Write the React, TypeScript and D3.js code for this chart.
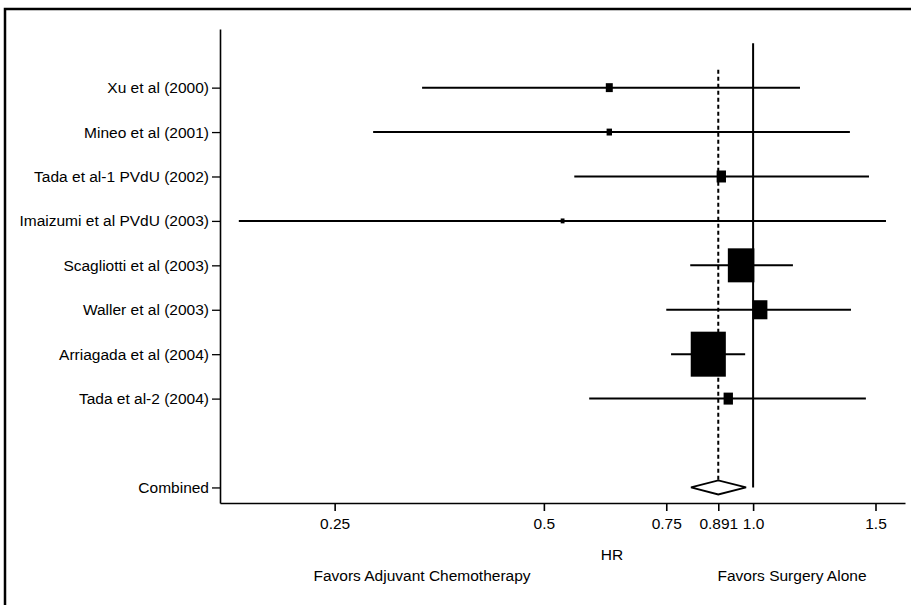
import React, { useEffect, useRef } from 'react';
import * as d3 from 'd3';

// study labels, top to bottom
const studies = [
  'Xu et al (2000)',
  'Mineo et al (2001)',
  'Tada et al-1 PVdU (2002)',
  'Imaizumi et al PVdU (2003)',
  'Scagliotti et al (2003)',
  'Waller et al (2003)',
  'Arriagada et al (2004)',
  'Tada et al-2 (2004)',
];
const hr = [0.621, 0.621, 0.9, 0.532, 0.961, 1.023, 0.862, 0.921];
const lower = [0.334, 0.284, 0.553, 0.182, 0.812, 0.75, 0.762, 0.581];
const upper = [1.168, 1.378, 1.468, 1.553, 1.141, 1.383, 0.974, 1.453];
// relative weights (%)
const weights = [2.0, 1.2, 3.6, 0.6, 29.0, 9.1, 50.8, 3.6];

const combinedLabel = 'Combined';
const combinedHR = 0.891;
const combinedLower = 0.814;
const combinedUpper = 0.977;

const xTicks = [0.25, 0.5, 0.75, 0.891, 1.0, 1.5];
const xTickLabels = ['0.25', '0.5', '0.75', '0.891', '1.0', '1.5'];

const W = 911;
const H = 605;
const FONT = '"Liberation Sans", Arial, Helvetica, sans-serif';

export default function App() {
  const ref = useRef<SVGSVGElement>(null);

  useEffect(() => {
    const svg = d3.select(ref.current);
    svg.selectAll('*').remove();

    const x = d3.scaleLog().domain([0.171, 1.654]).range([220, 905]);
    // row positions: studies 0..7, gap, combined at 9
    const y = d3.scaleLinear().domain([-1.32, 9.35]).range([29, 503]);
    const size = d3.scaleSqrt().domain([0, 50.8]).range([0, 45]);

    svg.append('rect').attr('width', W).attr('height', H).attr('fill', '#fff');

    // outer frame (runs off right and bottom)
    svg.append('path')
      .attr('d', `M5,${H + 5} L5,9 L${W + 5},9`)
      .attr('fill', 'none')
      .attr('stroke', '#000')
      .attr('stroke-width', 2.5);

    const rows = studies.map((s, i) => ({ label: s, pos: i }));
    const yAxis = d3.axisLeft(y)
      .tickValues([...rows.map(r => r.pos), 9])
      .tickFormat((d) => {
        const v = +d;
        return v === 9 ? combinedLabel : studies[v];
      })
      .tickSize(8)
      .tickSizeOuter(0)
      .tickPadding(3);

    const gy = svg.append('g').attr('transform', 'translate(220,0)').call(yAxis);
    gy.select('.domain').attr('stroke-width', 1.6);
    gy.selectAll('line').attr('stroke-width', 1.3);
    gy.selectAll('text')
      .attr('font-family', FONT)
      .attr('font-size', 15.5)
      .attr('fill', '#000');

    const xAxis = d3.axisBottom(x)
      .tickValues(xTicks)
      .tickFormat((d, i) => xTickLabels[i])
      .tickSize(8)
      .tickSizeOuter(0)
      .tickPadding(7);

    const gx = svg.append('g').attr('transform', 'translate(0,503)').call(xAxis);
    gx.select('.domain').attr('stroke-width', 1.6);
    gx.selectAll('line').attr('stroke-width', 1.6);
    gx.selectAll('text')
      .attr('font-family', FONT)
      .attr('font-size', 15.5)
      .attr('fill', '#000');

    // reference lines
    svg.append('line')
      .attr('x1', x(1)).attr('x2', x(1))
      .attr('y1', y(-1)).attr('y2', y(9))
      .attr('stroke', '#000')
      .attr('stroke-width', 2);

    svg.append('line')
      .attr('x1', x(combinedHR)).attr('x2', x(combinedHR))
      .attr('y1', y(-0.4)).attr('y2', y(9) - 7)
      .attr('stroke', '#000')
      .attr('stroke-width', 2)
      .attr('stroke-dasharray', '4,3');

    // CI lines
    svg.append('g').selectAll('line')
      .data(rows)
      .enter()
      .append('line')
      .attr('x1', d => x(lower[d.pos]))
      .attr('x2', d => x(upper[d.pos]))
      .attr('y1', d => y(d.pos))
      .attr('y2', d => y(d.pos))
      .attr('stroke', '#000')
      .attr('stroke-width', 2);

    // weighted boxes (squeezed horizontally like the original)
    svg.append('g').selectAll('rect')
      .data(rows)
      .enter()
      .append('rect')
      .attr('x', d => x(hr[d.pos]) - size(weights[d.pos]) * 0.78 / 2)
      .attr('y', d => y(d.pos) - size(weights[d.pos]) / 2)
      .attr('width', d => size(weights[d.pos]) * 0.78)
      .attr('height', d => size(weights[d.pos]))
      .attr('fill', '#000');

    // combined diamond
    const cy = y(9);
    svg.append('path')
      .attr('d', `M${x(combinedLower)},${cy} L${x(combinedHR)},${cy - 7} L${x(combinedUpper)},${cy} L${x(combinedHR)},${cy + 7} Z`)
      .attr('fill', '#fff')
      .attr('stroke', '#000')
      .attr('stroke-width', 1.8);

    const texts = [
      { t: 'HR', x: 612, y: 560 },
      { t: 'Favors Adjuvant Chemotherapy', x: 422, y: 581 },
      { t: 'Favors Surgery Alone', x: 792, y: 581 },
    ];
    svg.append('g').selectAll('text')
      .data(texts)
      .enter()
      .append('text')
      .attr('x', d => d.x)
      .attr('y', d => d.y)
      .attr('text-anchor', 'middle')
      .attr('font-family', FONT)
      .attr('font-size', 15.5)
      .attr('fill', '#000')
      .text(d => d.t);
  }, []);

  return (
    <div style={{ position: 'fixed', left: 0, top: 0 }}>
      <svg ref={ref} width={W} height={H} style={{ display: 'block' }}></svg>
    </div>
  );
}
